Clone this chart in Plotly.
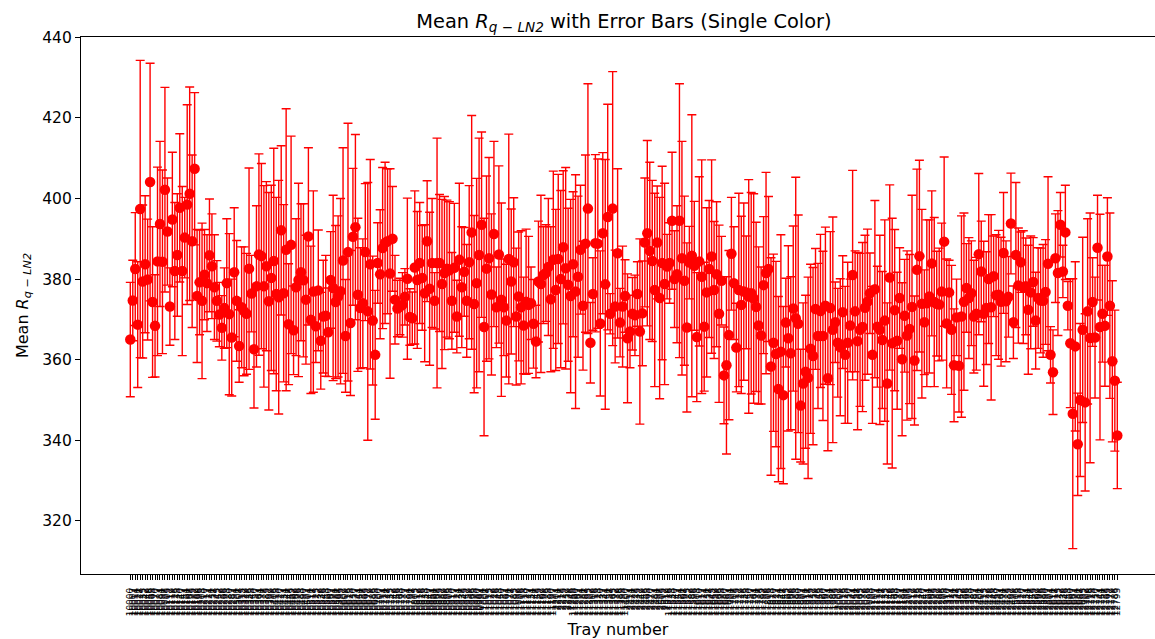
import plotly.graph_objects as go

mean_values = [
    365,374.7,382.5,368.7,397.4,379.4,383.7,379.9,404.1,374.3,
    368.4,384.4,393.7,384.3,402.2,391.8,373.2,394.8,382,386,
    397.7,382,390.3,398.5,401.2,389.4,407.4,
    375.8,379.2,374.6,381.1,379,385.9,383.2,378,374.6,371.2,
    367.9,372.8,379,371.3,365.5,381.7,374.6,363.4,373,372,
    371.4,382.6,376.4,362.6,378.2,386.1,385.7,378.2,383.2,374.5,
    380.3,384.5,376.3,375.5,392.1,376.5,387.3,368.8,388.5,367.3,
    378,379.8,381.7,379.7,374.9,390.6,369.9,376.9,368.3,377.2,
    364.7,370.7,370.9,366.8,379.8,377.8,374.3,375.7,377,384.6,
    365.9,386.7,369.1,390.5,392.9,376.1,372.8,374,386.7,372,
    383.7,369.7,361.2,
    384,381.2,387.7,389,389.4,381.4,390,374.9,372.7,373.2,
    373.6,375.6,380.1,370.6,370.3,382.9,379.8,384,380.3,376.5,
    389.4,377.6,384,374.6,384,384,378.8,381.5,382.6,382.2,
    374.6,382.8,370.7,384.8,378,381.8,374.6,384.2,391.6,373.8,
    379,386,393.5,368.1,382.6,385.2,376.2,391.2,373,386.1,
    374.9,373,369.7,385,379.4,384.2,370.7,375.7,
    373,368.5,374.4,373.6,374,368.9,364.5,379.4,378.8,381,
    381.5,383,375,384.8,377.3,385,380,387.9,382.7,378.6,
    375.8,383.7,376.9,380.6,387.3,373.4,388.8,397.5,364.2,376.3,
    388.9,388.8,369,391.4,378.7,395.4,371.4,397.5,373.2,386.4,
    369.2,373.2,375.8,365.3,367,371.4,371,376.3,367,371.5,
    389.1,391.4,387,384.5,377.3,389.1,375.3,
    384,378.8,383.1,384,394.5,380,381.2,394.5,385.2,379.6,
    368,384.1,385.8,383.3,365.6,384.4,380.6,368.2,376.7,382.5,
    385.6,377.3,381.2,371.4,379.6,356.1,358.6,366.1,386.3,379,
    363,377.3,373.6,376.9,376.7,375.7,376.5,375.2,373.1,368.5,
    366,378.5,381.5,382.5,358.3,364.2,361.4,352.7,362,351.2,
    369.2,365.3,361.6,372.7,370.3,368.9,
    348.6,354.1,357,355.5,362.7,360.9,372.6,365.9,372.1,365.9,
    373.4,355.4,372.8,367.4,369.3,364.2,363.1,371.8,361.2,364.2,
    368.5,381,372,364.6,367.4,368.1,372.9,374.4,376.5,361.2,
    377.5,368.2,367.4,364.9,369.7,354.1,380.4,364.1,372.3,364.7,
    375.3,360.1,370.9,366,367.6,373.1,359.8,382.3,385.7,373.9,
    369.3,374,375.7,383.9,374.3,373.9,373.7,376.9,389.3,369,
    376.7,367.4,358.6,370.5,358.5,370.7,374.4,377.8,375.3,
    376.5,370.7,371.4,386.2,381.9,371.4,372.8,380,373,380.7,
    376,376.1,374.4,386.5,374.5,375.6,393.8,369.3,386,378.4,
    384.2,378,378.2,372.4,376.7,379.3,369.7,375.3,374.7,374.6,
    376.8,383.8,361.2,356.9,385.2,381.5,393.5,381.9,391.6,373.4,
    364.1,346.6,363.3,339,350,367.4,349.4,372,365.4,374.3,
    365.5,387.8,368.1,371.4,368.4,385.6,373.4,359.6,354.8,341.2,
]

error_values = [
    14.2,10,14,15.6,36.9,19,17,15,29.5,18.7,
    12.7,23.4,20.5,22.8,25.4,13.3,9.6,16.7,17,15.2,
    18.4,21,10,24.8,26.5,21.4,18.9,
    16.5,13,19.3,11.2,12,14,13,13,10,8,
    8,10,16,20,14.5,16,15,9,15,16,
    15,25,9.5,14.6,20,25,23,25,21,27,
    23,28,24,29,21,22,35,15,27,11,
    17,24,17,19,16,22,18.3,25,9,15,
    12,14,15,11,12,23,19,20,23,28,
    14,32,18,17,23,19,15,16,17,32,
    26,16,16,
    10,16,20,20,18,26,13,11,7,7,
    8,7,20,7,6.5,19,17,15,13,17,
    15,19,16,7,31,17,21,19,17,17,
    12,16,9,19,15,11,14,19,29,22,
    26,29,23,27,23,25,20,23,10,22,
    24,12,14,31,18,16,17,16,
    19,12,18,17,9,11,9,15,22,12,
    12,17,18,22,20,21,22,19,25,19,
    24,18,29,20,16,16,22,31,10,9,
    22,21,18,20,31,28,5,34,14,21,
    8.5,15,9,16,9,9,10,8,23,13,
    16,23,22,20,24,14,25,
    24,25,8,10,17,12,17,34,29,21,
    21,9,35,16,16,21,29,16,21,17,
    24,17,18,22,11,12,22,21,14,14,
    11,24,22,22,14,29,25,26,21,19.5,
    17,17,25,18,27,22,23,23,29,22,
    11,23,19,20.5,35,27,
    14,20,19,25,21,22,15,18,19,21,
    19.5,18,19,28,10,13.5,17,14,17,20,
    11.5,26,15,22,19,21,18,18,10,17,
    22,15,23.5,17,25,20,23,31,20,17,
    12.5,19,14,21,18.5,27.7,16,25,23.8,23.4,
    13,20.7,19,18,21,13,14,17,21,16,
    8,16,14,9.5,11.5,25,22,11,15,
    13,14,14,20,12.5,18,14,16,23,10,
    15,16,16,15,15,10,12.5,9,18,14.3,
    7.5,14,12,16,14,11,12,12.5,13,14,
    13,21.6,7,10.5,11,15.5,8,6.5,11.7,6,
    16,33.5,21,12.7,19,23,22,23,31,11,
    15,13,28,12,15,14.6,23,20,17.5,13.2,
]

positions = list(range(len(mean_values)))
# The reference's tick labels overlap into unreadable rows of digits; these stand in for them.
tray_labels = [str(1000 + 7 * i) if 172 <= i < 179 or 201 <= i < 218 else str(10000 + 7 * i) for i in positions]

FONT = "DejaVu Sans"
fig = go.Figure(go.Scatter(
    x=positions, y=mean_values, mode="markers",
    marker=dict(color="red", size=10.5),
    error_y=dict(type="data", array=error_values, color="red", thickness=1.4, width=4.5),
    cliponaxis=False,
))
fig.update_layout(
    width=1155, height=639, margin=dict(l=81, r=0, t=37, b=65),
    paper_bgcolor="white", plot_bgcolor="white", showlegend=False,
    font=dict(family=FONT, color="black", size=15),
    title=dict(text="Mean <i>R</i><sub><i>q − LN2</i></sub> with Error Bars (Single Color)",
               x=624/1155, xanchor="center", y=1-21/639, yanchor="middle",
               font=dict(size=19.4, family=FONT)),
)
sp = 2.4737
fig.update_xaxes(
    range=[-(130.3-81)/sp, (1155-130.3)/sp], tickmode="array", tickvals=positions, ticktext=tray_labels,
    tickangle=-90, tickfont=dict(size=9), ticks="outside", ticklen=5, tickwidth=0.7, tickcolor="black",
    ticklabelstandoff=4,
    showgrid=False, zeroline=False, showline=True, linecolor="black", linewidth=1.2, mirror=True,
    title=dict(text="Tray number", standoff=8, font=dict(size=16)),
)
fig.update_yaxes(
    range=[306.8, 440.1], tickmode="array", tickvals=[320,340,360,380,400,420,440],
    tickfont=dict(size=15.5), ticks="outside", ticklen=5, tickwidth=1, tickcolor="black",
    showgrid=False, zeroline=False, showline=True, linecolor="black", linewidth=1.2, mirror=True,
    title=dict(text="Mean <i>R</i><sub><i>q − LN2</i></sub>", standoff=9, font=dict(size=16)),
)
fig.write_html("out.html", config={"displayModeBar": False},
               post_script="document.body.style.margin='0';document.documentElement.style.overflow='hidden';")
